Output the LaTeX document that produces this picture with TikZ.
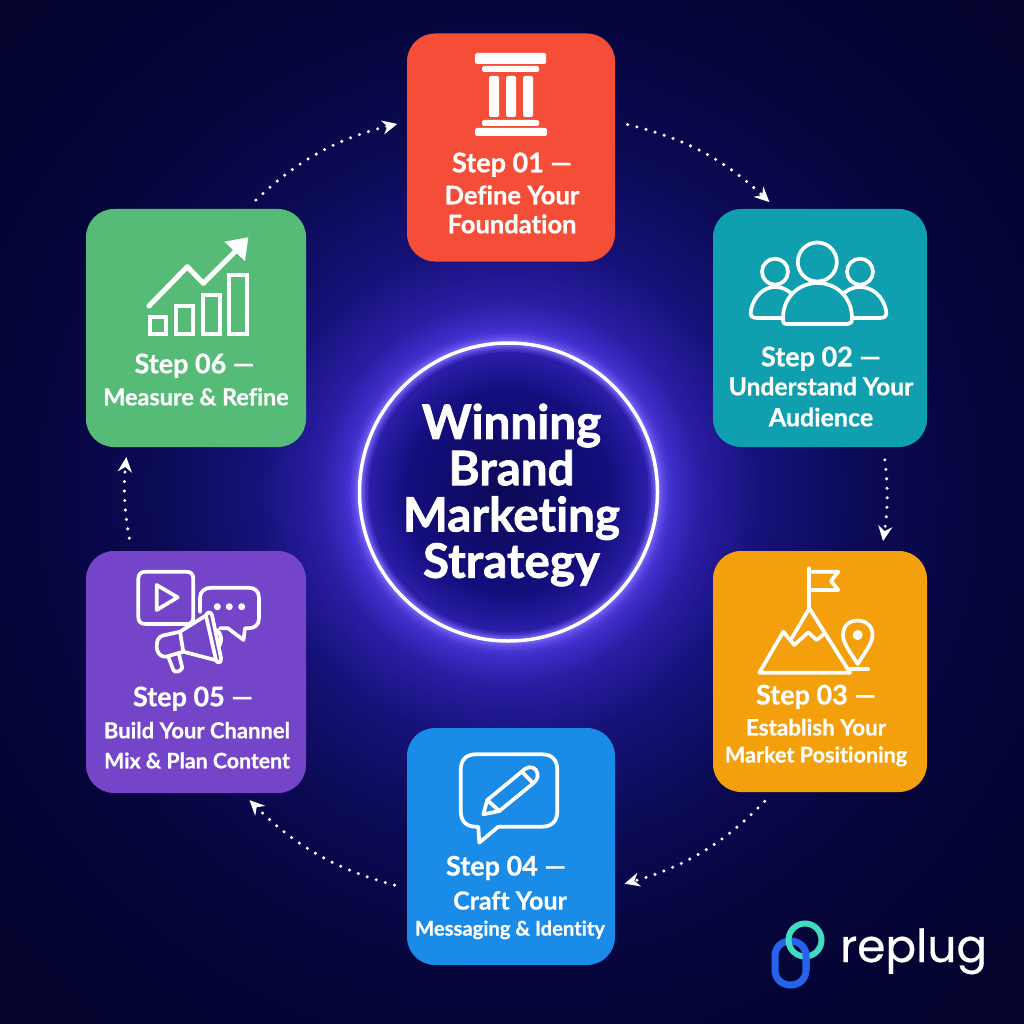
\documentclass[tikz,border=0pt]{standalone}
\usepackage{fontspec}
\setmainfont[Ligatures=NoCommon]{Lato}
\newfontfamily\heavyfont[Ligatures=NoCommon,FakeBold=1.6]{Lato Bold}
\newfontfamily\labelfont[Ligatures=NoCommon,FakeBold=0.7]{Lato Bold}
\newfontfamily\logofont[FakeBold=0.5]{Poppins}
\usepackage{tikz}
\usetikzlibrary{arrows.meta,calc,positioning}
\definecolor{bgdark}{HTML}{03032B}
\definecolor{glowa}{HTML}{0B0A55}
\definecolor{glowb}{HTML}{130E7D}
\definecolor{glowc}{HTML}{2A1EA8}
\definecolor{glowd}{HTML}{5A48E8}
\definecolor{glowe}{HTML}{3E2EC8}
\definecolor{glowf}{HTML}{2A1EA5}
\definecolor{glowg}{HTML}{17127A}
\definecolor{glowh}{HTML}{0B0A55}
\definecolor{glowi}{HTML}{05053A}
\definecolor{ringglow}{HTML}{8A78FF}
\definecolor{boxred}{HTML}{F44E38}
\definecolor{boxteal}{HTML}{0F9FAE}
\definecolor{boxamber}{HTML}{F3A00C}
\definecolor{boxblue}{HTML}{1A8CE8}
\definecolor{boxpurple}{HTML}{7445C8}
\definecolor{boxgreen}{HTML}{55BB76}
\definecolor{logoteal}{HTML}{3FDCC0}
\definecolor{logoblue}{HTML}{2563EB}
\pgfdeclareradialshading{bgglow}{\pgfpoint{0bp}{0bp}}{
  color(0bp)=(glowa);
  color(3.3bp)=(glowb);
  color(4.6bp)=(glowc);
  color(4.9bp)=(glowd);
  color(5.4bp)=(glowe);
  color(6.25bp)=(glowf);
  color(8.2bp)=(glowg);
  color(11.5bp)=(glowh);
  color(16.4bp)=(glowi);
  color(24.2bp)=(bgdark);
  color(50bp)=(bgdark)}
\tikzstyle{stepbox}=[rectangle, rounded corners=28pt, inner sep=0pt, outer sep=0pt]
\tikzstyle{steplabel}=[align=center, text=white, inner sep=0pt,
                       font=\labelfont\fontsize{23}{30}\selectfont]
\tikzstyle{flow}=[white, line width=3.4pt, line cap=round, dash pattern=on 0pt off 9.5pt,
                  shorten <=13pt, shorten >=10pt, ->, >={Stealth[length=15pt,width=14pt]}]
\tikzstyle{icon}=[white, line width=3.7pt, line cap=round, line join=round]
\tikzstyle{solidicon}=[fill=white, rounded corners=1.5pt]
\newcommand{\sz}[2]{{\fontsize{#1}{30}\selectfont #2}}
\begin{document}
\begin{tikzpicture}[x=1pt, y=-1pt]
    \useasboundingbox (0,0) rectangle (1024,1024);
    \clip (0,0) rectangle (1024,1024);
    \fill[bgdark] (0,0) rectangle (1024,1024);
    \shade[shading=bgglow] (508.5,492) circle (760);

    \foreach \w/\o in {18/0.10,12/0.18,8/0.30}
        \draw[ringglow, line width=\w pt, opacity=\o] (508.5,492) circle (149);
    \node[circle, draw=white, line width=3.5pt, minimum size=298pt, inner sep=0pt] (hub) at (508.5,492) {};
    \node[align=center, text=white, inner sep=0pt, font=\heavyfont\fontsize{47.5}{46.3}\selectfont] (title) at (511.5,495)
          {Winning\\Brand\\Marketing\\Strategy};

    \foreach \n/\x/\y/\w/\h/\c in {1/511/147.5/208/228/boxred, 2/820/328/214/238/boxteal,
                                   3/820/671.5/214/241/boxamber, 4/511/846.5/208/237/boxblue,
                                   5/196/672/220/242/boxpurple, 6/196/328/220/238/boxgreen}
        \node[stepbox, fill=\c, minimum width=\w pt, minimum height=\h pt] (step\n) at (\x,\y) {};

    \node[steplabel] (label1) at (512,193) {\sz{27}{Step 01 —}\\[2pt]\sz{25.5}{Define Your}\\[-1pt]\sz{25.5}{Foundation}};
    \node[steplabel] (label2) at (821,386.5) {\sz{27}{Step 02 —}\\[-1pt]\sz{24.6}{Understand Your}\\[1pt]\sz{25}{Audience}};
    \node[steplabel] (label3) at (816,725.5) {\sz{27}{Step 03 —}\\[1pt]\sz{22.4}{Establish Your}\\[-3pt]\sz{21.6}{Market Positioning}};
    \node[steplabel] (label4) at (510,897.5) {\sz{27}{Step 04 —\kern 8pt}\\[4pt]\sz{25}{Craft Your}\\[-4pt]\sz{20.2}{Messaging \& Identity}};
    \node[steplabel] (label5) at (197,727.5) {\sz{27}{Step 05 —\kern 8pt}\\[2pt]\sz{22}{Build Your Channel}\\\sz{21.3}{Mix \& Plan Content}};
    \node[steplabel] (label6) at (196,379.5) {\sz{27}{Step 06 —\kern 3pt}\\[2pt]\sz{23.4}{Measure \& Refine}};

    \draw[flow] (step1.14) to[bend left=15] (step2.110);
    \draw[flow] (step2.-62) to[bend left=8] (step3.63);
    \draw[flow] (step3.-111) to[bend left=15] (step4.-21);
    \draw[flow] (step4.202) to[bend left=15] (step5.-69);
    \draw[flow] (step5.118) to[bend left=8] (step6.-120);
    \draw[flow] (step6.67) to[bend left=15] (step1.166);

    % pillar
    \fill[solidicon] (475,53) rectangle (546,64);
    \fill[solidicon] (482,66) rectangle (539,72);
    \foreach \x in {489,506,523} \fill[solidicon] (\x,76) rectangle (\x+10,117);
    \fill[solidicon] (482,120) rectangle (539,126);
    \fill[solidicon] (475,128) rectangle (547,136);

    % people
    \draw[icon] (775,271.7) circle (13);
    \draw[icon] (860,271.7) circle (13);
    \draw[icon] (817.3,262) circle (19.5);
    \draw[icon] (783,318) -- (757,318) .. controls (751,318) and (750,315) .. (751,310)
                .. controls (754,296) and (764,287) .. (775,287) .. controls (781,287) and (786,289) .. (791,293);
    \draw[icon] (852,318) -- (880,318) .. controls (886,318) and (887,315) .. (886,310)
                .. controls (883,296) and (872,287) .. (860,287) .. controls (854,287) and (849,289) .. (844,293);
    \draw[icon] (787,324) .. controls (783,324) and (783,322) .. (783,318)
                .. controls (783,298) and (798,283) .. (817.5,283) .. controls (837,283) and (852,298) .. (852,318)
                .. controls (852,322) and (851,324) .. (848,324) -- cycle;

    % mountain and flag
    \draw[icon] (809.3,568.3) -- (809.3,608.3);
    \draw[icon] (811.7,571.7) -- (838.3,571.7) -- (831,581) -- (838.3,590) -- (811.7,590);
    \draw[icon] (850,672.7) -- (809.3,608.3) -- (791.7,638.3);
    \draw[icon] (850,672.7) -- (759.3,672.7) -- (783.3,631.7) -- (794.3,645) -- (808.3,632.3) -- (816.7,640) -- (824,634);
    \draw[icon] (857.7,664) .. controls (850,652) and (843,643) .. (843,635) .. controls (843,626) and (849,620.5) .. (857.7,620.5)
                .. controls (866,620.5) and (872.5,626) .. (872.5,635) .. controls (872.5,643) and (865,652) .. (857.7,664) -- cycle;
    \fill[white] (857.7,635) circle (5);
    \draw[icon] (850,669.3) -- (868.3,669.3);

    % speech bubble and pencil
    \draw[icon] (476,754.3) -- (542,754.3) .. controls (552,754.3) and (557.3,760) .. (557.3,770) -- (557.3,811)
                .. controls (557.3,821) and (552,826.7) .. (542,826.7) -- (498.3,826.7) -- (479.3,842.7) -- (478.3,826.7) -- (476,826.7)
                .. controls (466,826.7) and (460.7,821) .. (460.7,811) -- (460.7,770) .. controls (460.7,760) and (466,754.3) .. (476,754.3) -- cycle;
    \draw[icon] (483.3,814.3) -- (487.3,800) -- (521.7,771.7) .. controls (527,766) and (533,766) .. (536,770)
                .. controls (539,775) and (538,779) .. (533.3,783.3) -- (499.3,811) -- cycle;
    \draw[icon] (487.3,800) -- (499.3,811);
    \draw[icon] (521.7,771.7) -- (533.3,783.3);

    % video, chat and megaphone
    \draw[icon] (146,571.7) -- (186,571.7) .. controls (191,571.7) and (193.3,574) .. (193.3,579) -- (193.3,617)
                .. controls (193.3,622) and (191,624) .. (186,624) -- (146,624)
                .. controls (141,624) and (138.3,622) .. (138.3,617) -- (138.3,579) .. controls (138.3,574) and (141,571.7) .. (146,571.7) -- cycle;
    \draw[icon] (156.7,585) -- (177.7,597.3) -- (156.7,610) -- cycle;
    \draw[icon] (200,612) -- (200,598) .. controls (200,591) and (205,587.7) .. (212,587.7) -- (248,587.7)
                .. controls (255,587.7) and (259,591) .. (259,598) -- (259,618) .. controls (259,625) and (255,628.3) .. (248,628.3)
                -- (245,628.3) -- (243.5,640) -- (228,628.3) -- (220,628.3);
    \foreach \x in {217.3,229.3,241.7} \fill[white] (\x,606.7) circle (3.5);
    \draw[icon, fill=boxpurple] (168.3,656.7) -- (173.3,670) .. controls (175,673) and (180,672) .. (182.3,668) -- (179,654.3);
    \draw[icon, fill=boxpurple] (180,631.7) -- (208.3,614) -- (219,661) -- (183.3,651.7) -- (166,656.7)
                .. controls (159,657) and (156.7,651) .. (156.7,646.7) .. controls (156.7,641) and (158,637) .. (163,635.5) -- cycle;
    \draw[icon, fill=boxpurple] (206,616) .. controls (206,612) and (211,611) .. (212,615) -- (221,658) .. controls (222,663) and (217,664) .. (216,660) -- cycle;
    \draw[icon] (180,631.7) -- (183.3,651.7);
    \draw[icon] (216.7,630) .. controls (221,633) and (223,640) .. (219,646);

    % chart
    \foreach \xa/\ya/\xb in {150/316.7/165.7, 176/306/193.3, 202.7/295/220, 229/275/246.7}
        \draw[icon, line cap=butt, line join=miter] (\xa,\ya) rectangle (\xb,334.3);
    \draw[icon, line width=5pt] (149,306) -- (187.3,266.7) -- (203.3,283.3) -- (235,251.7);
    \fill[white] (248.3,237.3) -- (224.3,241.7) -- (245,261) -- cycle;

    % logo
    \draw[logoblue, line width=7pt] (775,956) .. controls (775,947) and (782,941) .. (790.5,941)
                .. controls (799,941) and (806,947) .. (806,956) -- (806,970)
                .. controls (806,979) and (799,985) .. (790.5,985) .. controls (782,985) and (775,979) .. (775,970) -- cycle;
    \draw[logoteal, line width=6pt] (805,940) circle (16.5);
    \begin{scope}
        \clip (797,948) rectangle (815,975);
        \draw[logoblue, line width=7pt] (790.5,941) .. controls (799,941) and (806,947) .. (806,956) -- (806,970);
    \end{scope}
    \node[text=white, anchor=base west, inner sep=0pt, font=\logofont\fontsize{45.5}{50}\selectfont] (logotext) at (840,962) {replug};
\end{tikzpicture}
\end{document}
